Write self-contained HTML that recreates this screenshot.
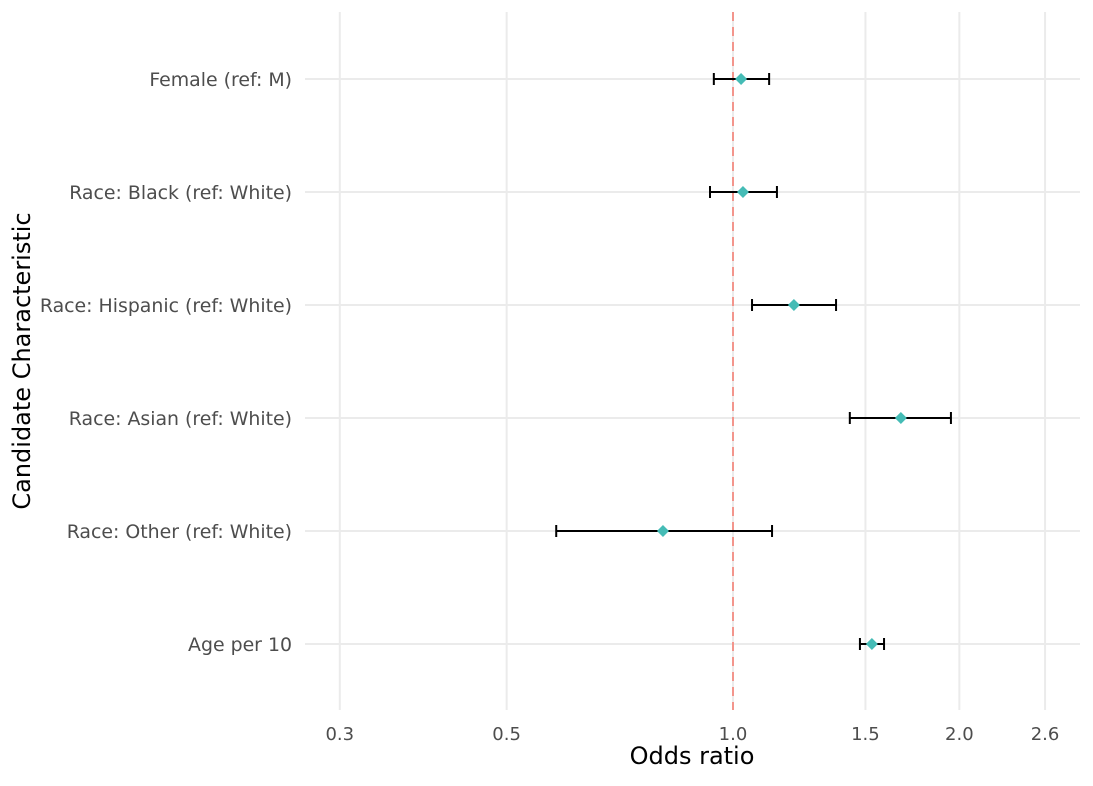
<!DOCTYPE html>
<html><head><meta charset="utf-8"><style>
body{margin:0;background:#fff;font-family:"Liberation Sans","DejaVu Sans",sans-serif;}
svg text{font-family:"DejaVu Sans","Liberation Sans",sans-serif;}
</style></head><body>
<svg id="chart" width="1093" height="781" xmlns="http://www.w3.org/2000/svg">
<g id="grid"></g>
<g id="ref"></g>
<g id="marks"></g>
<g id="axes"></g>
<text x="692" y="764" font-size="24" text-anchor="middle" fill="#000">Odds ratio</text>
<text x="0" y="0" font-size="24" text-anchor="middle" fill="#000" transform="translate(30,361) rotate(-90)">Candidate Characteristic</text>
</svg>
<script>
const categories=["Female (ref: M)","Race: Black (ref: White)","Race: Hispanic (ref: White)","Race: Asian (ref: White)","Race: Other (ref: White)","Age per 10"];
const estimates=[1.025,1.031,1.205,1.672,0.807,1.530];
const lower=[0.943,0.932,1.06,1.43,0.582,1.475];
const upper=[1.117,1.144,1.371,1.949,1.127,1.588];
const xTicks=[0.3,0.5,1.0,1.5,2.0,2.6];
const xTickLabels=["0.3","0.5","1.0","1.5","2.0","2.6"];
const refValue=1.0;
const NS="http://www.w3.org/2000/svg";
const x=v=>733+752*Math.log10(v);
const y=i=>79+i*113;
const L=305,R=1080,T=12,B=710;
function mk(tag,attrs,parent){const e=document.createElementNS(NS,tag);for(const k in attrs)e.setAttribute(k,attrs[k]);parent.appendChild(e);return e;}
const grid=document.getElementById('grid'),marks=document.getElementById('marks'),axes=document.getElementById('axes'),ref=document.getElementById('ref');
xTicks.forEach((t,i)=>{
 const l=mk('line',{x1:x(t),x2:x(t),y1:T,y2:B,stroke:'#ebebeb','stroke-width':2},grid);
 
 
 const tx=mk('text',{x:x(t),y:740,'font-size':18,'text-anchor':'middle',fill:'#4d4d4d'},axes);
 tx.textContent=xTickLabels[i];
 
 
});
categories.forEach((c,i)=>{
 const l=mk('line',{x1:L,x2:R,y1:y(i),y2:y(i),stroke:'#ebebeb','stroke-width':2},grid);
 
 
 const tx=mk('text',{x:292,y:y(i)+7,'font-size':18.9,'text-anchor':'end',fill:'#4d4d4d'},axes);
 tx.textContent=c;
 
 
});
const rl=mk('line',{x1:x(refValue),x2:x(refValue),y1:T,y2:B,stroke:'#f3958c','stroke-width':2,'stroke-dasharray':'9,6'},ref);


categories.forEach((c,i)=>{
 const g=mk('g',{},marks);
 
 
 const yy=y(i),a=x(lower[i]),b=x(upper[i]);
 const eb=mk('path',{d:`M${a},${yy}H${b}M${a},${yy-6}V${yy+6}M${b},${yy-6}V${yy+6}`,stroke:'#000','stroke-width':2,fill:'none'},g);
 
 
 const px=x(estimates[i]);
 const d=mk('path',{d:`M${px},${yy-6}L${px+6},${yy}L${px},${yy+6}L${px-6},${yy}Z`,fill:'#45bcb6'},g);
 
 
});
</script>
</body></html>
